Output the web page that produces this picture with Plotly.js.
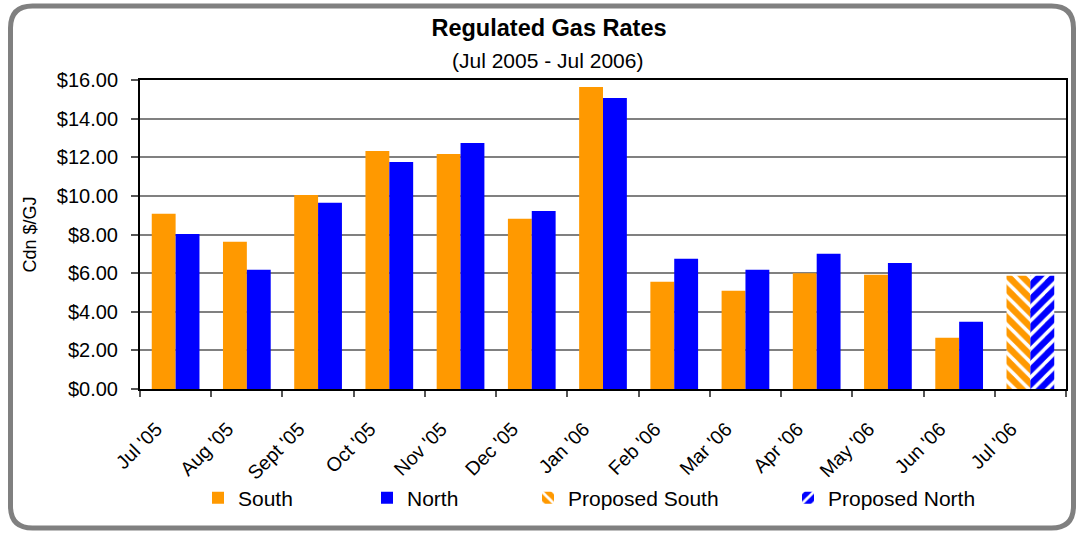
<!DOCTYPE html>
<html>
<head>
<meta charset="utf-8">
<script src="https://cdn.plot.ly/plotly-3.0.1.min.js"></script>
<style>
html,body{margin:0;padding:0;background:#ffffff;}
#chart{width:1079px;height:533px;}
</style>
</head>
<body>
<div id="chart"></div>
<script>
// ---- data ----
const months = ["Jul '05","Aug '05","Sept '05","Oct '05","Nov '05","Dec '05","Jan '06","Feb '06","Mar '06","Apr '06","May '06","Jun '06","Jul '06"];
const actualMonths = ["Jul '05","Aug '05","Sept '05","Oct '05","Nov '05","Dec '05","Jan '06","Feb '06","Mar '06","Apr '06","May '06","Jun '06"];
const southRates = [9.07, 7.62, 10.05, 12.33, 12.17, 8.81, 15.64, 5.55, 5.09, 6.00, 5.91, 2.65];
const northRates = [8.03, 6.17, 9.64, 11.76, 12.74, 9.22, 15.07, 6.74, 6.17, 7.00, 6.53, 3.48];
const proposedMonths = ["Jul '06"];
const proposedSouth = [5.86];
const proposedNorth = [5.86];
const yTicks = [0, 2, 4, 6, 8, 10, 12, 14, 16];
const yTickLabels = yTicks.map(v => '$' + v.toFixed(2));
// labels end with no-break spaces so the rotated text sits down-left of each category centre
const xTickLabels = months.map(m => m + '\u00a0\u00a0\u00a0\u00a0\u00a0');

// ---- styles ----
const ORANGE = '#FF9900';
const BLUE = '#0000FF';
const FONT = 'Liberation Sans, Arial, sans-serif';

const traces = [
  {type:'bar', name:'South', x:actualMonths, y:southRates, offsetgroup:'s',
   marker:{color:ORANGE, line:{width:0}}, legendwidth:124},
  {type:'bar', name:'North', x:actualMonths, y:northRates, offsetgroup:'n',
   marker:{color:BLUE, line:{width:0}}, legendwidth:116},
  {type:'bar', name:'Proposed South', x:proposedMonths, y:proposedSouth, offsetgroup:'s',
   marker:{color:ORANGE, line:{width:0},
     pattern:{shape:'\\', fillmode:'replace', bgcolor:ORANGE, fgcolor:'#FFFFFF', size:10, solidity:0.35}},
   legendwidth:215},
  {type:'bar', name:'Proposed North', x:proposedMonths, y:proposedNorth, offsetgroup:'n',
   marker:{color:BLUE, line:{width:0},
     pattern:{shape:'/', fillmode:'replace', bgcolor:BLUE, fgcolor:'#FFFFFF', size:10, solidity:0.35}}}
];

// outer rounded frame, in paper coordinates
const L = 140, T = 80, W = 926, H = 309;
function px(x){ return ((x - L) / W).toFixed(5); }
function py(y){ return ((T + H - y) / H).toFixed(5); }
const fx0 = 10.5, fx1 = 1073.5, fy0 = 6, fy1 = 528, r = 22;
const framePath =
  'M' + px(fx0 + r) + ',' + py(fy0) +
  ' L' + px(fx1 - r) + ',' + py(fy0) +
  ' Q' + px(fx1) + ',' + py(fy0) + ' ' + px(fx1) + ',' + py(fy0 + r) +
  ' L' + px(fx1) + ',' + py(fy1 - r) +
  ' Q' + px(fx1) + ',' + py(fy1) + ' ' + px(fx1 - r) + ',' + py(fy1) +
  ' L' + px(fx0 + r) + ',' + py(fy1) +
  ' Q' + px(fx0) + ',' + py(fy1) + ' ' + px(fx0) + ',' + py(fy1 - r) +
  ' L' + px(fx0) + ',' + py(fy0 + r) +
  ' Q' + px(fx0) + ',' + py(fy0) + ' ' + px(fx0 + r) + ',' + py(fy0) + ' Z';

const layout = {
  width:1079, height:533,
  margin:{l:L, r:1079 - L - W, t:T, b:533 - T - H, pad:0},
  paper_bgcolor:'#FFFFFF', plot_bgcolor:'#FFFFFF',
  font:{family:FONT, size:20, color:'#000000'},
  title:{text:'<b>Regulated Gas Rates</b>', xref:'container', x:549/1079, xanchor:'center',
         yref:'container', y:1 - 28/533, yanchor:'middle',
         font:{family:FONT, size:23.5, color:'#000000'}},
  annotations:[{text:'(Jul 2005 - Jul 2006)', xref:'paper', yref:'paper',
                x:(547 - L)/W, y:(T + H - 61)/H, xanchor:'center', yanchor:'middle',
                showarrow:false, font:{family:FONT, size:21, color:'#000000'}}],
  barmode:'group', bargap:0.33, bargroupgap:0,
  xaxis:{type:'category', categoryorder:'array', categoryarray:months, range:[-0.5, 12.5],
         tickmode:'array', tickvals:months, ticktext:xTickLabels,
         tickson:'boundaries', ticks:'outside', ticklen:6, tickwidth:2, tickcolor:'#555555',
         tickangle:-45, ticklabelstandoff:0, tickfont:{family:FONT, size:19.5, color:'#000000'},
         showline:true, linecolor:'#000000', linewidth:2, mirror:true,
         showgrid:false, zeroline:false, fixedrange:true},
  yaxis:{range:[0,16], tickvals:yTicks, ticktext:yTickLabels,
         ticks:'outside', ticklen:7, tickwidth:2, tickcolor:'#555555', ticklabelstandoff:9,
         tickfont:{family:FONT, size:20, color:'#000000'},
         showline:true, linecolor:'#000000', linewidth:2, mirror:true,
         showgrid:true, gridcolor:'#808080', gridwidth:2, zeroline:false,
         title:{text:'Cdn $/GJ', font:{family:FONT, size:18, color:'#000000'}, standoff:16},
         fixedrange:true},
  legend:{orientation:'h', xanchor:'left', x:(198 - L)/W, yanchor:'middle', y:(T + H - 498)/H,
          font:{family:FONT, size:21, color:'#000000'}, bgcolor:'rgba(0,0,0,0)', traceorder:'normal'},
  showlegend:true,
  shapes:[{type:'path', xref:'paper', yref:'paper', path:framePath,
           line:{color:'#808080', width:5}, fillcolor:'rgba(0,0,0,0)', layer:'above'}]
};

Plotly.newPlot('chart', traces, layout, {displayModeBar:false, staticPlot:true});
</script>
</body>
</html>
